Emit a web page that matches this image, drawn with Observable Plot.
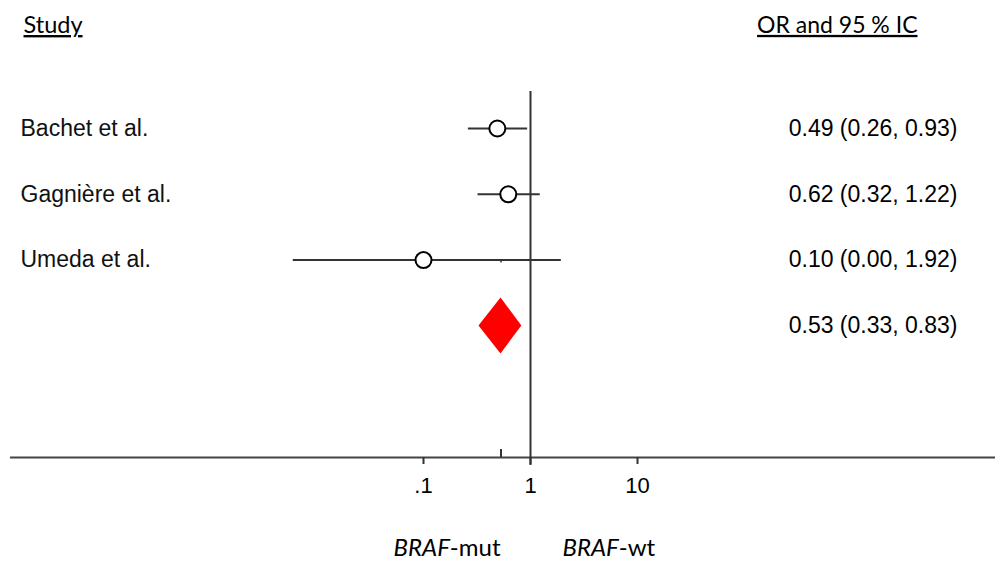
<!DOCTYPE html>
<html>
<head>
<meta charset="utf-8">
<script src="https://cdn.jsdelivr.net/npm/d3@7"></script>
<script src="https://cdn.jsdelivr.net/npm/@observablehq/plot@0.6"></script>
<style>
  body { margin: 0; background: #fff; }
  #chart svg { display: block; }
</style>
</head>
<body>
<div id="chart"></div>
<script>
// ---- data ----
const studies = ["Bachet et al.", "Gagnière et al.", "Umeda et al."];
const oddsRatios = [0.49, 0.62, 0.10];
const lowerCI = [0.26, 0.32, 0.006]; // Umeda reported as 0.00; drawn end
const upperCI = [0.93, 1.22, 1.92];
const studyLabels = ["0.49 (0.26, 0.93)", "0.62 (0.32, 1.22)", "0.10 (0.00, 1.92)"];
const pooledOR = [0.53];
const pooledLower = [0.33];
const pooledUpper = [0.83];
const pooledLabels = ["0.53 (0.33, 0.83)"];
const tickValues = [0.1, 1, 10];
const tickLabels = [".1", "1", "10"];
const headers = ["Study", "OR and 95 % IC"];
const sideLabels = ["BRAF-mut", "BRAF-wt"];

// ---- layout (row units) ----
const pooledRow = studies.length + 1;
const axisRow = 6;
const rowPx = (457 - 128) / 5;
const px = p => p / rowPx;

const rows = studies.map((s, i) => ({
  study: s, or: oddsRatios[i], lo: lowerCI[i], hi: upperCI[i], label: studyLabels[i], row: i + 1
}));
const pooled = pooledOR.map((o, i) => ({or: o, lo: pooledLower[i], hi: pooledUpper[i], label: pooledLabels[i], row: pooledRow}));
const dh = px(28);
const diamond = pooled.flatMap(d => [
  {y: d.row - dh, x1: d.or, x2: d.or},
  {y: d.row, x1: d.lo, x2: d.hi},
  {y: d.row + dh, x1: d.or, x2: d.or}
]);
const ticks = tickValues.map((v, i) => ({v, label: tickLabels[i]}));

const sans = "Liberation Sans, Arial, sans-serif";
const calibri = "Lato, Open Sans, sans-serif";
const ink = "#333";

const chart = Plot.plot({
  width: 995,
  height: 561,
  marginLeft: 10,
  marginRight: 0,
  marginTop: 0,
  marginBottom: 0,
  style: {fontFamily: sans, background: "#fff"},
  x: {type: "log", domain: [0.1, 10], range: [423, 637], axis: null},
  y: {type: "linear", domain: [1, axisRow], range: [128, 457], axis: null},
  marks: [
    // axis line
    Plot.ruleY([axisRow], {stroke: "#444", strokeWidth: 2}),
    // ticks
    Plot.ruleX(ticks, {x: "v", y1: axisRow, y2: axisRow + px(7), stroke: "#333", strokeWidth: 2}),
    Plot.ruleX(pooled, {x: "or", y1: axisRow - px(8), y2: axisRow, stroke: "#333", strokeWidth: 2}),
    // small stubs at pooled estimate on study rows
    Plot.ruleX(rows, {x: d => pooledOR[0], y1: "row", y2: d => d.row + px(3), stroke: "#333", strokeWidth: 1.5}),
    // line of no effect
    Plot.ruleX([1], {y1: 1 + px(91 - 128), y2: axisRow + px(8), stroke: "#333", strokeWidth: 2}),
    // CIs
    Plot.link(rows, {x1: "lo", x2: "hi", y1: "row", y2: "row", stroke: ink, strokeWidth: 2}),
    Plot.dot(rows, {x: "or", y: "row", r: 8, fill: "white", stroke: "black", strokeWidth: 2}),
    // pooled diamond
    Plot.areaX(diamond, {y: "y", x1: "x1", x2: "x2", fill: "#ff0000"}),
    // study names
    Plot.text(rows, {y: "row", text: "study", frameAnchor: "left", textAnchor: "start", dx: 10, fontSize: 23, fill: "#111"}),
    // OR labels
    Plot.text([...rows, ...pooled], {y: "row", text: "label", frameAnchor: "right", textAnchor: "end", dx: -38, fontSize: 23, fill: "#000"}),
    // tick labels
    Plot.text(ticks, {x: "v", y: axisRow + px(28), text: "label", fontSize: 22, fill: "#000"}),
    // headers
    Plot.text([headers[0]], {y: 1 + px(25 - 128), text: d => d, frameAnchor: "left", textAnchor: "start", dx: 13, fontSize: 23.5, fontFamily: calibri, fill: "#000"}),
    Plot.text([headers[1]], {y: 1 + px(25 - 128), text: d => d, frameAnchor: "right", textAnchor: "end", dx: -78, fontSize: 23, fontFamily: calibri, fill: "#000"}),
    // side labels
    Plot.text([sideLabels[0]], {x: [1], y: axisRow + px(91), text: d => d, textAnchor: "end", dx: -30, fontSize: 24, fontFamily: calibri, fill: "#000"}),
    Plot.text([sideLabels[1]], {x: [1], y: axisRow + px(91), text: d => d, textAnchor: "start", dx: 32, fontSize: 24, fontFamily: calibri, fill: "#000"})
  ]
});

// underline headers, italicise gene name
d3.select(chart).selectAll("text").each(function() {
  const t = this.textContent;
  if (headers.includes(t)) {
    this.style.textDecoration = "underline";
  } else if (sideLabels.includes(t)) {
    const parts = t.split("-");
    const sel = d3.select(this);
    sel.text(null);
    sel.append("tspan").attr("font-style", "italic").text(parts[0]);
    sel.append("tspan").text("-" + parts.slice(1).join("-"));
  }
});

document.getElementById("chart").append(chart);
</script>
</body>
</html>
